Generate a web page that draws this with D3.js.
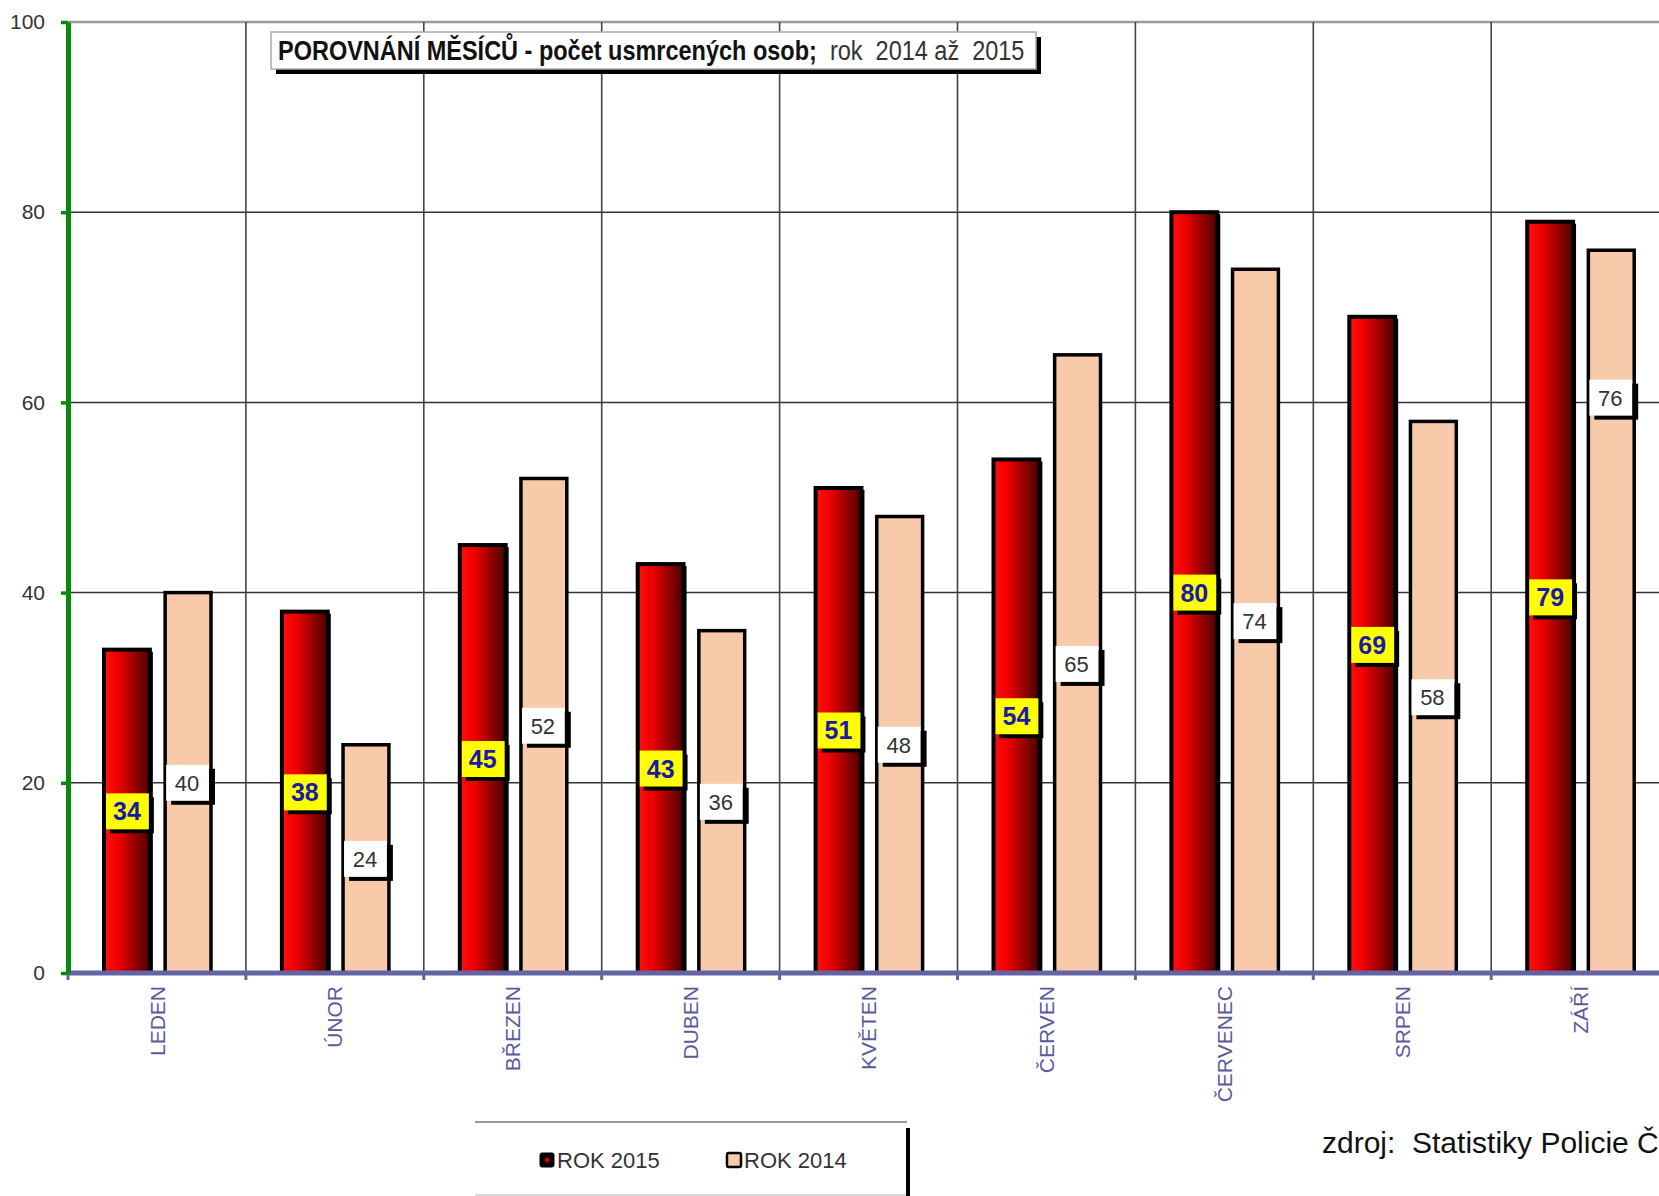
<!DOCTYPE html>
<html>
<head>
<meta charset="utf-8">
<script src="https://cdn.jsdelivr.net/npm/d3@7"></script>
<style>
body{margin:0;background:#fff;overflow:hidden}
text{font-family:"Liberation Sans",Arial,sans-serif}
</style>
</head>
<body>
<div id="roott"></div>
<script>
// DATA
const months = ["LEDEN","ÚNOR","BŘEZEN","DUBEN","KVĚTEN","ČERVEN","ČERVENEC","SRPEN","ZÁŘÍ"];
const rok2015 = [34,38,45,43,51,54,80,69,79];
const rok2014 = [40,24,52,36,48,65,74,58,76];
const yTicks = [0,20,40,60,80,100];
const seriesNames = ["ROK 2015","ROK 2014"];
const titleBold = "POROVNÁNÍ MĚSÍCŮ - počet usmrcených osob;";
const titleRest = "  rok  2014 až  2015";
const sourceText = "zdroj:  Statistiky Policie ČR";

// DIMENSIONS
const W = 1659, H = 1196;
const plotLeft = 68, plotTop = 22, plotBottom = 973;
const bandW = 177.9;

const svg = d3.select('#roott').append('svg')
  .attr('width', W).attr('height', H)
  .style('display','block');

const defs = svg.append('defs');
let grad = defs.append('linearGradient').attr('id','redGrad')
  .attr('x1','0').attr('x2','1').attr('y1','0').attr('y2','0');
grad.append('stop').attr('offset','0').attr('stop-color','#ff1010');
grad.append('stop').attr('offset','0.3').attr('stop-color','#f00000');
grad.append('stop').attr('offset','1').attr('stop-color','#4a0000');

// scales
let x = d3.scaleBand().domain(months)
  .range([plotLeft, plotLeft + bandW*months.length]);
let y = d3.scaleLinear().domain([0,100]).range([plotBottom, plotTop]);
let inner = d3.scaleBand().domain(seriesNames).range([36,143]).paddingInner(0.25);

// grid - horizontal
svg.append('g').selectAll('line')
  .data(yTicks.filter(t => t > 0))
  .enter().append('line')
  .attr('x1', plotLeft).attr('x2', W)
  .attr('y1', d => y(d)).attr('y2', d => y(d))
  .style('stroke', d => d == 100 ? '#9a9a9a' : '#333')
  .style('stroke-width', d => d == 100 ? 2.5 : 1.5);

// grid - vertical (band edges)
svg.append('g').selectAll('line')
  .data(months)
  .enter().append('line')
  .attr('x1', d => x(d) + x.bandwidth()).attr('x2', d => x(d) + x.bandwidth())
  .attr('y1', plotTop).attr('y2', plotBottom)
  .style('stroke', '#444').style('stroke-width', 1.6);

// bars 2015
let bw = inner.bandwidth();
svg.append('g').selectAll('rect.sh')
  .data(rok2015).enter().append('rect')
  .attr('x', (d,i) => x(months[i]) + inner("ROK 2015") + 3)
  .attr('y', d => y(d) + 2)
  .attr('width', bw).attr('height', d => plotBottom - y(d))
  .style('fill','#000');
svg.append('g').selectAll('rect')
  .data(rok2015).enter().append('rect')
  .attr('x', (d,i) => x(months[i]) + inner("ROK 2015"))
  .attr('y', d => y(d))
  .attr('width', bw).attr('height', d => plotBottom - y(d))
  .style('fill','url(#redGrad)')
  .style('stroke','#000').style('stroke-width',4);

// bars 2014
svg.append('g').selectAll('rect')
  .data(rok2014).enter().append('rect')
  .attr('x', (d,i) => x(months[i]) + inner("ROK 2014"))
  .attr('y', d => y(d))
  .attr('width', bw).attr('height', d => plotBottom - y(d))
  .style('fill','#f8caa9')
  .style('stroke','#000').style('stroke-width',3.5);

// x axis
let xAxis = svg.append('g')
  .attr('transform', `translate(0, ${plotBottom})`)
  .call(d3.axisBottom(x).tickSize(0).tickSizeOuter(0));
xAxis.select('.domain').attr('d', `M${plotLeft},0H${W}`)
  .style('stroke','#6464a4').style('stroke-width',5);
xAxis.selectAll('text')
  .attr('transform','rotate(-90)')
  .attr('x', -13).attr('y', 0).attr('dy','0.36em')
  .style('text-anchor','end')
  .style('font-size','21px')
  .style('fill','#5a5a9c');
svg.append('g').selectAll('line')
  .data(d3.range(months.length + 1))
  .enter().append('line')
  .attr('x1', i => plotLeft + i*bandW).attr('x2', i => plotLeft + i*bandW)
  .attr('y1', plotBottom).attr('y2', plotBottom + 7)
  .style('stroke','#6464a4').style('stroke-width',3);

// y axis
let yAxis = svg.append('g')
  .attr('transform', `translate(${plotLeft}, 0)`)
  .call(d3.axisLeft(y).tickValues(yTicks).tickSize(7).tickSizeOuter(0).tickPadding(16));
yAxis.select('.domain').style('stroke','#0a880a').style('stroke-width',5);
yAxis.selectAll('.tick line').style('stroke','#0a880a').style('stroke-width',3.5);
yAxis.selectAll('text').style('font-size','21px').style('fill','#333');

// value labels
let lab15 = svg.append('g').selectAll('g')
  .data(rok2015).enter().append('g')
  .attr('transform', (d,i) => `translate(${x(months[i]) + inner("ROK 2015") + bw/2}, ${y(d/2)})`);
lab15.append('rect').attr('x', -bw/2 + 6).attr('y', -14).attr('width', bw - 2).attr('height', 36).style('fill','#000');
lab15.append('rect').attr('x', -bw/2 + 2).attr('y', -18).attr('width', bw - 3).attr('height', 36).style('fill','#ffff00');
lab15.append('text').text(d => d)
  .attr('x', 0).attr('y', 9)
  .style('text-anchor','middle').style('font-weight','bold')
  .style('font-size','25px').style('fill','#1a1aa8');

// the 76 label sits higher in the original
const labelAt2014 = rok2014.map((d,i) => i == 8 ? 60.5 : d/2);
let lab14 = svg.append('g').selectAll('g')
  .data(rok2014).enter().append('g')
  .attr('transform', (d,i) => `translate(${x(months[i]) + inner("ROK 2014") + bw/2}, ${y(labelAt2014[i])})`);
lab14.append('rect').attr('x', -bw/2 + 6).attr('y', -14).attr('width', bw - 2).attr('height', 36).style('fill','#000');
lab14.append('rect').attr('x', -bw/2 + 1).attr('y', -18).attr('width', bw - 3).attr('height', 36).style('fill','#fff');
lab14.append('text').text(d => d)
  .attr('x', -1).attr('y', 8)
  .style('text-anchor','middle')
  .style('font-size','22px').style('fill','#333');

// title box
let tb = svg.append('g');
tb.append('rect').attr('x', 276).attr('y', 37).attr('width', 765).attr('height', 37).style('fill','#000');
tb.append('rect').attr('x', 271).attr('y', 32).attr('width', 765).attr('height', 37)
  .style('fill','#fff').style('stroke','#aaa').style('stroke-width',1.5);
let tt = tb.append('text')
  .attr('transform','translate(278, 60) scale(0.87, 1)')
  .style('font-size','27px').style('fill','#111')
  .style('white-space','pre').attr('xml:space','preserve');
tt.append('tspan').style('font-weight','bold').text(titleBold);
tt.append('tspan').style('fill','#333').text(titleRest);

// legend
let lg = svg.append('g');
lg.append('line').attr('x1',475).attr('x2',907).attr('y1',1122).attr('y2',1122)
  .style('stroke','#999').style('stroke-width',2);
lg.append('line').attr('x1',475).attr('x2',907).attr('y1',1195).attr('y2',1195)
  .style('stroke','#ccc').style('stroke-width',1.5);
lg.append('line').attr('x1',908).attr('x2',908).attr('y1',1128).attr('y2',H)
  .style('stroke','#000').style('stroke-width',4);
let legX = [540, 727];
let lItem = lg.selectAll('g').data(seriesNames).enter().append('g')
  .attr('transform', (d,i) => `translate(${legX[i]}, 1153)`);
lItem.append('rect').attr('width',14).attr('height',14).attr('rx',2)
  .style('fill', (d,i) => i == 0 ? '#000' : '#f8caa9')
  .style('stroke','#000').style('stroke-width', (d,i) => i == 0 ? 1 : 2.5);
lItem.filter((d,i) => i == 0).append('circle').attr('cx',7).attr('cy',7).attr('r',2.5).style('fill','#d00000');
lItem.append('text').text(d => d)
  .attr('x', 17).attr('y', 15)
  .style('font-size','22px').style('fill','#333');

// source
svg.append('text').attr('x', 1322).attr('y', 1153)
  .style('font-size','30px').style('fill','#111')
  .style('white-space','pre').attr('xml:space','preserve')
  .text(sourceText);
</script>
</body>
</html>
